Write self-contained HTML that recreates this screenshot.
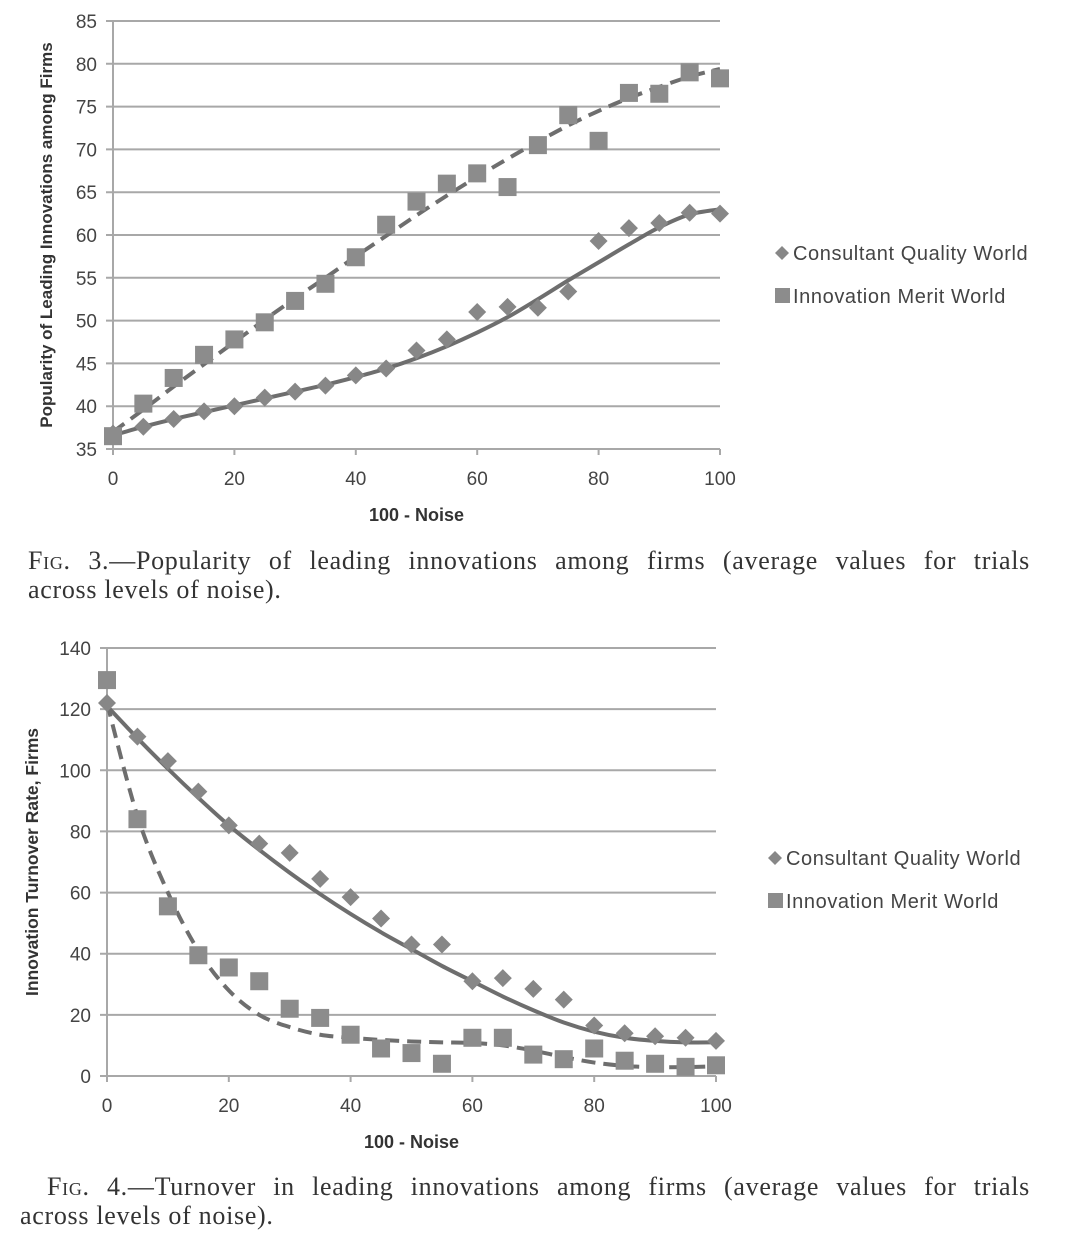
<!DOCTYPE html>
<html><head><meta charset="utf-8"><style>
body{margin:0;background:#fff;width:1067px;height:1233px;overflow:hidden}
svg text{font-family:"Liberation Sans",sans-serif}
.cap{position:absolute;left:28px;width:1002px;font-family:"Liberation Serif",serif;font-size:26px;letter-spacing:0.7px;color:#333;line-height:29px}
.cap .l1{display:block;text-align:justify;text-align-last:justify;white-space:nowrap}
.sc{font-variant:small-caps}
</style></head><body>
<svg id="s" width="1067" height="1233" style="position:absolute;left:0;top:0"></svg>
<div class="cap" style="top:546px"><span class="l1"><span class="sc">Fig.</span> 3.—Popularity of leading innovations among firms (average values for trials</span>across levels of noise).</div>
<div class="cap" style="top:1172px;left:20px;width:1010px"><span class="l1" style="padding-left:27px"><span class="sc">Fig.</span> 4.—Turnover in leading innovations among firms (average values for trials</span>across levels of noise).</div>
<script>
const xCats=[0,5,10,15,20,25,30,35,40,45,50,55,60,65,70,75,80,85,90,95,100];
const xTicks=[0,20,40,60,80,100];
const c1Ticks=[35,40,45,50,55,60,65,70,75,80,85];
const c1Consultant=[36.8,37.6,38.5,39.4,40,41,41.7,42.4,43.6,44.4,46.5,47.8,51,51.6,51.5,53.4,59.3,60.8,61.4,62.6,62.5];
const c1Merit=[36.5,40.3,43.3,46,47.8,49.8,52.3,54.3,57.4,61.2,63.9,66,67.2,65.6,70.5,74,71,76.6,76.5,79,78.3];
const c1ConsultantTrend=[36.6,37.6,38.5,39.3,40.1,40.9,41.7,42.5,43.4,44.4,45.6,47,48.6,50.4,52.5,54.7,56.8,58.9,60.9,62.4,63];
const c1MeritTrend=[37,39.6,42.3,44.9,47.5,50.1,52.6,55,57.5,59.9,62.3,64.6,66.8,68.9,70.9,72.8,74.5,76,77.3,78.5,79.4];
const c2Ticks=[0,20,40,60,80,100,120,140];
const c2Consultant=[122,111,103,93,82,76,73,64.5,58.5,51.5,43,43,31,32,28.5,25,16.5,14,13,12.5,11.5];
const c2Merit=[129.5,84,55.5,39.5,35.5,31,22,19,13.5,9,7.5,4,12.5,12.5,7,5.5,9,5,4,3,3.5];
const c2ConsultantTrend=[121,110.5,100.5,91,82,74,66.5,59.5,53,47,41.5,36,31,26,21.5,17.5,14.5,12.5,11.5,11,11];
const c2MeritTrend=[122,85,60,41,28,20,16,13.5,12.5,11.8,11.3,11,10.8,10,8.3,6.2,4.4,3.3,2.9,2.9,3.2];

const NS="http://www.w3.org/2000/svg";
const svg=document.getElementById('s');
function mk(t,a,p){const e=document.createElementNS(NS,t);for(const k in a)e.setAttribute(k,a[k]);(p||svg).appendChild(e);return e;}
function smooth(pts){let d=`M${pts[0][0]},${pts[0][1]}`;for(let i=0;i<pts.length-1;i++){const p0=pts[Math.max(0,i-1)],p1=pts[i],p2=pts[i+1],p3=pts[Math.min(pts.length-1,i+2)];d+=` C${p1[0]+(p2[0]-p0[0])/6},${p1[1]+(p2[1]-p0[1])/6} ${p2[0]-(p3[0]-p1[0])/6},${p2[1]-(p3[1]-p1[1])/6} ${p2[0]},${p2[1]}`;}return d;}
function chart(o){
  const g=mk('g',{});
  
  
  const X=v=>o.x0+(v-0)/100*(o.x1-o.x0);
  const Y=v=>o.yB+(v-o.ymin)/(o.ymax-o.ymin)*(o.yT-o.yB);
  o.yt.forEach(t=>{const l=mk('line',{x1:o.x0-7,x2:o.x1,y1:Y(t),y2:Y(t),stroke:'#a8a8a8','stroke-width':2},g);
    
    const tx=mk('text',{x:o.x0-16,y:Y(t)+7,'text-anchor':'end','font-size':19,fill:'#444'},g);tx.textContent=t;
    });
  mk('line',{x1:o.x0,x2:o.x0,y1:o.yT,y2:o.yB+6,stroke:'#a8a8a8','stroke-width':2},g);
  xTicks.forEach(t=>{mk('line',{x1:X(t),x2:X(t),y1:o.yB,y2:o.yB+6,stroke:'#a8a8a8','stroke-width':2},g);
    const tx=mk('text',{x:X(t),y:o.yB+36,'text-anchor':'middle','font-size':19,fill:'#444'},g);tx.textContent=t;
    });
  const xt=mk('text',{x:(o.x0+o.x1)/2,y:o.yB+72,'text-anchor':'middle','font-size':18,'font-weight':'bold',fill:'#333'},g);xt.textContent='100 - Noise';
  
  const yc=(o.yT+o.yB)/2;
  const yt=mk('text',{x:o.ytx,y:yc,'text-anchor':'middle','font-size':o.ytfs,'font-weight':'bold',fill:'#333',transform:`rotate(-90 ${o.ytx} ${yc})`},g);yt.textContent=o.ytitle;
  
  const l1=mk('path',{d:smooth(xCats.map((c,i)=>[X(c),Y(o.cT[i])])),fill:'none',stroke:'#6e6e6e','stroke-width':4},g);
  
  const l2=mk('path',{d:smooth(xCats.map((c,i)=>[X(c),Y(o.mT[i])])),fill:'none',stroke:'#6e6e6e','stroke-width':4,'stroke-dasharray':'14 8'},g);
  
  xCats.forEach((c,i)=>{const x=X(c),y=Y(o.c[i]);
    const d=mk('polygon',{points:`${x},${y-9} ${x+9},${y} ${x},${y+9} ${x-9},${y}`,fill:'#878787'},g);
    });
  xCats.forEach((c,i)=>{const x=X(c),y=Y(o.m[i]);
    const r=mk('rect',{x:x-9,y:y-9,width:18,height:18,fill:'#8c8c8c'},g);
    });
  const lg=mk('g',{},g);
  const lx=o.lx,ly=o.ly;
  mk('polygon',{points:`${lx+7},${ly-7} ${lx+14},${ly} ${lx+7},${ly+7} ${lx},${ly}`,fill:'#878787'},lg);
  let t=mk('text',{x:lx+18,y:ly+7,'font-size':20,'letter-spacing':0.6,fill:'#444'},lg);t.textContent='Consultant Quality World';
  
  mk('rect',{x:lx,y:ly+35,width:15,height:15,fill:'#8c8c8c'},lg);
  t=mk('text',{x:lx+18,y:ly+50,'font-size':20,'letter-spacing':0.6,fill:'#444'},lg);t.textContent='Innovation Merit World';
  
}
chart({name:'fig3-chart',x0:113,x1:720,yT:21,yB:449,ymin:35,ymax:85,yt:c1Ticks,ytitle:'Popularity of Leading Innovations among Firms',ytx:52,ytfs:17,
  c:c1Consultant,m:c1Merit,cT:c1ConsultantTrend,mT:c1MeritTrend,lx:775,ly:253});
chart({name:'fig4-chart',x0:107,x1:716,yT:648,yB:1076,ymin:0,ymax:140,yt:c2Ticks,ytitle:'Innovation Turnover Rate, Firms',ytx:38,ytfs:17.5,
  c:c2Consultant,m:c2Merit,cT:c2ConsultantTrend,mT:c2MeritTrend,lx:768,ly:858});
</script>
</body></html>
